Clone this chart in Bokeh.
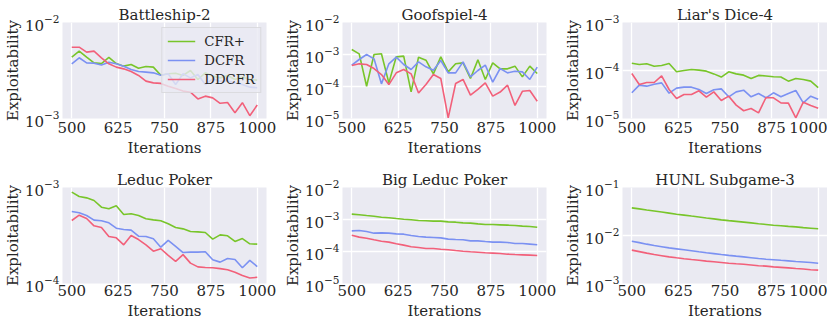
from bokeh.plotting import figure
from bokeh.layouts import column, row
from bokeh.models import Range1d, FixedTicker, LogTickFormatter
from bokeh.embed import file_html
from bokeh.resources import INLINE

iterations = list(range(500, 1001, 20))
x_ticks = [500, 625, 750, 875, 1000]
methods = ["CFR+", "DCFR", "DDCFR"]
colors = ["#78c52a", "#7b91f2", "#f2607a"]

titles = ["Battleship-2", "Goofspiel-4", "Liar's Dice-4",
          "Leduc Poker", "Big Leduc Poker", "HUNL Subgame-3"]
y_limits = [(1e-3, 1e-2), (1e-5, 1e-2), (1e-5, 1e-3),
            (1e-4, 1e-3), (1e-5, 1e-2), (1e-3, 1e-1)]

battleship_cfrp = [4.36e-3, 5.02e-3, 4.36e-3, 3.80e-3, 3.74e-3, 4.32e-3, 3.74e-3, 3.51e-3, 3.65e-3, 3.34e-3,
                   3.48e-3, 3.43e-3, 2.82e-3, 2.92e-3, 2.96e-3, 2.81e-3, 3.16e-3, 2.55e-3, 2.99e-3, 2.76e-3,
                   2.65e-3, 2.81e-3, 2.55e-3, 2.70e-3, 2.55e-3, 2.51e-3]
battleship_dcfr = [3.71e-3, 4.29e-3, 3.80e-3, 3.77e-3, 3.60e-3, 3.86e-3, 3.71e-3, 3.51e-3, 3.24e-3, 3.09e-3,
                   3.04e-3, 2.99e-3, 2.82e-3, 2.92e-3, 2.26e-3, 2.92e-3, 2.65e-3, 2.87e-3, 2.26e-3, 2.59e-3,
                   2.45e-3, 2.45e-3, 2.35e-3, 2.26e-3, 2.12e-3, 2.09e-3]
battleship_ddcfr = [5.53e-3, 5.53e-3, 4.91e-3, 5.03e-3, 4.29e-3, 3.71e-3, 3.43e-3, 3.29e-3, 3.09e-3, 2.81e-3,
                    2.45e-3, 2.35e-3, 2.32e-3, 2.17e-3, 2.05e-3, 1.93e-3, 1.88e-3, 1.60e-3, 1.71e-3, 1.64e-3,
                    1.44e-3, 1.47e-3, 1.15e-3, 1.46e-3, 1.07e-3, 1.38e-3]

goofspiel_cfrp = [1.43e-3, 1.05e-3, 1.02e-4, 1.00e-3, 1.05e-3, 1.30e-4, 8.45e-4, 8.87e-4, 6.8e-5, 8.25e-4,
                  6.65e-4, 2.49e-4, 8.45e-4, 2.87e-4, 5.11e-4, 5.49e-4, 1.78e-4, 6.81e-4, 1.66e-4, 5.49e-4,
                  3.56e-4, 3.56e-4, 4.32e-4, 2.00e-4, 4.32e-4, 2.55e-4]
goofspiel_dcfr = [4.64e-4, 6.98e-4, 1.00e-3, 7.32e-4, 1.21e-4, 5.11e-4, 8.25e-4, 4.87e-4, 3.40e-4, 5.90e-4,
                  4.12e-4, 3.24e-4, 6.49e-4, 2.67e-4, 2.67e-4, 5.90e-4, 2.00e-4, 3.16e-4, 4.64e-4, 1.37e-4,
                  3.65e-4, 2.67e-4, 3.01e-4, 2.87e-4, 1.66e-4, 4.02e-4]
goofspiel_ddcfr = [4.53e-4, 5.11e-4, 4.87e-4, 3.65e-4, 2.37e-4, 1.15e-4, 2.67e-4, 3.40e-4, 2.49e-4, 6.3e-5,
                   1.15e-4, 2.37e-4, 1.78e-4, 1.05e-5, 1.24e-4, 1.66e-4, 5.4e-5, 8.1e-5, 1.30e-4, 5.0e-5,
                   6.7e-5, 1.10e-4, 2.55e-5, 7.1e-5, 7.5e-5, 3.48e-5]

liars_cfrp = [1.42e-4, 1.33e-4, 1.38e-4, 1.23e-4, 1.27e-4, 1.40e-4, 9.4e-5, 1.00e-4, 1.05e-4, 1.02e-4,
              9.7e-5, 8.5e-5, 7.3e-5, 9.4e-5, 8.5e-5, 8.0e-5, 6.8e-5, 7.9e-5, 7.7e-5, 7.4e-5,
              7.3e-5, 6.0e-5, 6.8e-5, 6.5e-5, 6.0e-5, 4.4e-5]
liars_dcfr = [3.43e-5, 4.95e-5, 4.72e-5, 5.19e-5, 5.53e-5, 3.37e-5, 4.29e-5, 4.50e-5, 4.50e-5, 4.02e-5,
              3.32e-5, 3.96e-5, 4.15e-5, 2.83e-5, 3.59e-5, 3.89e-5, 2.83e-5, 3.32e-5, 2.70e-5, 3.43e-5,
              2.83e-5, 3.32e-5, 3.83e-5, 2.12e-5, 2.92e-5, 2.53e-5]
liars_ddcfr = [8.66e-5, 5.11e-5, 5.62e-5, 5.62e-5, 7.74e-5, 4.02e-5, 2.61e-5, 3.16e-5, 3.16e-5, 3.77e-5,
               2.78e-5, 3.59e-5, 2.37e-5, 2.92e-5, 1.90e-5, 1.45e-5, 1.62e-5, 1.31e-5, 2.74e-5, 2.70e-5,
               2.12e-5, 2.09e-5, 1.03e-5, 2.19e-5, 1.87e-5, 1.64e-5]

leduc_cfrp = [8.94e-4, 8.06e-4, 7.80e-4, 7.32e-4, 6.24e-4, 6.00e-4, 6.44e-4, 5.23e-4, 5.32e-4, 5.11e-4,
              4.72e-4, 4.60e-4, 4.50e-4, 4.19e-4, 3.83e-4, 3.71e-4, 3.48e-4, 3.45e-4, 3.40e-4, 2.90e-4,
              3.21e-4, 3.14e-4, 2.74e-4, 2.94e-4, 2.59e-4, 2.57e-4]
leduc_dcfr = [5.62e-4, 5.45e-4, 5.11e-4, 4.57e-4, 4.50e-4, 4.29e-4, 3.77e-4, 3.65e-4, 3.60e-4, 3.11e-4,
              3.09e-4, 2.92e-4, 2.39e-4, 2.81e-4, 2.43e-4, 2.10e-4, 2.12e-4, 2.12e-4, 2.14e-4, 1.77e-4,
              1.67e-4, 1.82e-4, 1.78e-4, 1.46e-4, 1.74e-4, 1.50e-4]
leduc_ddcfr = [4.53e-4, 5.15e-4, 4.75e-4, 3.99e-4, 3.83e-4, 3.09e-4, 2.99e-4, 2.53e-4, 3.16e-4, 2.87e-4,
               2.53e-4, 2.17e-4, 2.30e-4, 1.96e-4, 1.70e-4, 2.00e-4, 1.63e-4, 1.49e-4, 1.47e-4, 1.46e-4,
               1.43e-4, 1.39e-4, 1.31e-4, 1.21e-4, 1.14e-4, 1.16e-4]

bigleduc_cfrp = [1.47e-3, 1.40e-3, 1.33e-3, 1.27e-3, 1.18e-3, 1.13e-3, 1.07e-3, 1.02e-3, 9.8e-4, 9.3e-4,
                 9.1e-4, 8.87e-4, 8.87e-4, 8.45e-4, 8.25e-4, 7.87e-4, 7.68e-4, 7.32e-4, 6.98e-4, 6.98e-4,
                 6.81e-4, 6.65e-4, 6.49e-4, 6.19e-4, 6.04e-4, 5.75e-4]
bigleduc_dcfr = [4.42e-4, 4.53e-4, 4.22e-4, 3.74e-4, 3.83e-4, 3.74e-4, 3.56e-4, 3.48e-4, 3.16e-4, 2.94e-4,
                 2.81e-4, 2.74e-4, 2.67e-4, 2.43e-4, 2.37e-4, 2.32e-4, 2.15e-4, 2.15e-4, 2.05e-4, 1.96e-4,
                 1.96e-4, 1.91e-4, 1.78e-4, 1.78e-4, 1.70e-4, 1.62e-4]
bigleduc_ddcfr = [3.24e-4, 2.81e-4, 2.61e-4, 2.32e-4, 2.10e-4, 1.96e-4, 1.74e-4, 1.58e-4, 1.40e-4, 1.33e-4,
                  1.24e-4, 1.24e-4, 1.18e-4, 1.13e-4, 1.07e-4, 1.02e-4, 9.8e-5, 9.5e-5, 9.1e-5, 8.87e-5,
                  8.66e-5, 8.25e-5, 8.05e-5, 7.87e-5, 7.68e-5, 7.50e-5]

hunl_cfrp = [3.77e-2, 3.58e-2, 3.40e-2, 3.24e-2, 3.08e-2, 2.93e-2, 2.78e-2, 2.66e-2, 2.54e-2, 2.43e-2,
             2.32e-2, 2.22e-2, 2.12e-2, 2.04e-2, 1.97e-2, 1.90e-2, 1.83e-2, 1.76e-2, 1.70e-2, 1.64e-2,
             1.60e-2, 1.55e-2, 1.51e-2, 1.46e-2, 1.42e-2, 1.38e-2]
hunl_dcfr = [7.62e-3, 7.10e-3, 6.60e-3, 6.19e-3, 5.85e-3, 5.53e-3, 5.27e-3, 5.03e-3, 4.80e-3, 4.57e-3,
             4.36e-3, 4.19e-3, 4.02e-3, 3.86e-3, 3.71e-3, 3.59e-3, 3.45e-3, 3.32e-3, 3.21e-3, 3.13e-3,
             3.04e-3, 2.96e-3, 2.88e-3, 2.81e-3, 2.73e-3, 2.65e-3]
hunl_ddcfr = [4.95e-3, 4.61e-3, 4.29e-3, 4.02e-3, 3.80e-3, 3.59e-3, 3.43e-3, 3.29e-3, 3.16e-3, 3.04e-3,
              2.92e-3, 2.83e-3, 2.74e-3, 2.65e-3, 2.57e-3, 2.51e-3, 2.43e-3, 2.35e-3, 2.30e-3, 2.22e-3,
              2.17e-3, 2.12e-3, 2.05e-3, 2.00e-3, 1.94e-3, 1.90e-3]

panel_series = [
    (battleship_cfrp, battleship_dcfr, battleship_ddcfr),
    (goofspiel_cfrp, goofspiel_dcfr, goofspiel_ddcfr),
    (liars_cfrp, liars_dcfr, liars_ddcfr),
    (leduc_cfrp, leduc_dcfr, leduc_ddcfr),
    (bigleduc_cfrp, bigleduc_dcfr, bigleduc_ddcfr),
    (hunl_cfrp, hunl_dcfr, hunl_ddcfr),
]

FONT = "DejaVu Serif"
BG = "#EAEAF2"
TXT = "#262626"


def decades(lo, hi):
    import math
    a = int(round(math.log10(lo)))
    b = int(round(math.log10(hi)))
    return [10.0 ** e for e in range(a, b + 1)]


def make_panel(i):
    col = i % 3
    r = i // 3
    lo, hi = y_limits[i]
    w = 280 if col < 2 else 267
    p = figure(width=w, frame_height=96,
               x_range=Range1d(475, 1025), y_range=Range1d(lo, hi),
               y_axis_type="log", output_backend="svg", toolbar_location=None,
               min_border_left=53, min_border_right=(14 if col < 2 else 0),
               min_border_top=15,
               min_border_bottom=(51 if r == 0 else 30),
               margin=((4, 0, 0, 0) if r == 0 else (0, 0, 0, 0)),
               background_fill_color=BG, border_fill_color="white",
               outline_line_color=None)
    p.title.text = titles[i]
    p.title.text_font = FONT
    p.title.text_font_size = "15px"
    p.title.text_font_style = "normal"
    p.title.align = "center"
    p.title.standoff = -2
    p.title.text_color = TXT

    p.xaxis.ticker = FixedTicker(ticks=x_ticks)
    p.xgrid.ticker = FixedTicker(ticks=x_ticks)
    yt = decades(lo, hi)
    p.yaxis.ticker = FixedTicker(ticks=yt)
    p.ygrid.ticker = FixedTicker(ticks=yt)
    p.yaxis.formatter = LogTickFormatter()

    for ax in (p.xaxis[0], p.yaxis[0]):
        ax.axis_line_color = None
        ax.major_tick_line_color = None
        ax.minor_tick_line_color = None
        ax.major_tick_out = 0
        ax.major_tick_in = 0
        ax.major_label_text_font = FONT
        ax.major_label_text_font_size = "15px"
        ax.major_label_text_color = TXT
        ax.axis_label_text_font = FONT
        ax.axis_label_text_font_size = "15px"
        ax.axis_label_text_font_style = "normal"
        ax.axis_label_text_color = TXT
    p.xaxis.axis_label = "Iterations"
    p.yaxis.axis_label = "Exploitability"
    p.xaxis.major_label_standoff = 3 if r == 0 else 1
    p.xaxis.axis_label_standoff = 3
    p.yaxis.major_label_standoff = 3
    p.yaxis.axis_label_standoff = 0

    p.grid.grid_line_color = "white"
    p.grid.grid_line_width = 1.3

    for name, vals, c in zip(methods, panel_series[i], colors):
        if i == 0:
            p.line(iterations, vals, line_color=c, line_width=1.6, legend_label=name)
        else:
            p.line(iterations, vals, line_color=c, line_width=1.6)

    if i == 0:
        lg = p.legend[0]
        lg.location = "top_right"
        lg.margin = 5
        lg.padding = 5
        lg.spacing = 3
        lg.glyph_width = 28
        lg.glyph_height = 16
        lg.label_height = 16
        lg.label_standoff = 9
        lg.label_text_font = FONT
        lg.label_text_font_size = "13.3px"
        lg.label_text_color = TXT
        lg.background_fill_color = BG
        lg.background_fill_alpha = 0.8
        lg.border_line_color = "#cccccc"
        lg.border_line_width = 1
    return p


panels = [make_panel(i) for i in range(6)]
layout = column(row(*panels[:3]), row(*panels[3:]))

open("out.html", "w").write(file_html(layout, INLINE))
